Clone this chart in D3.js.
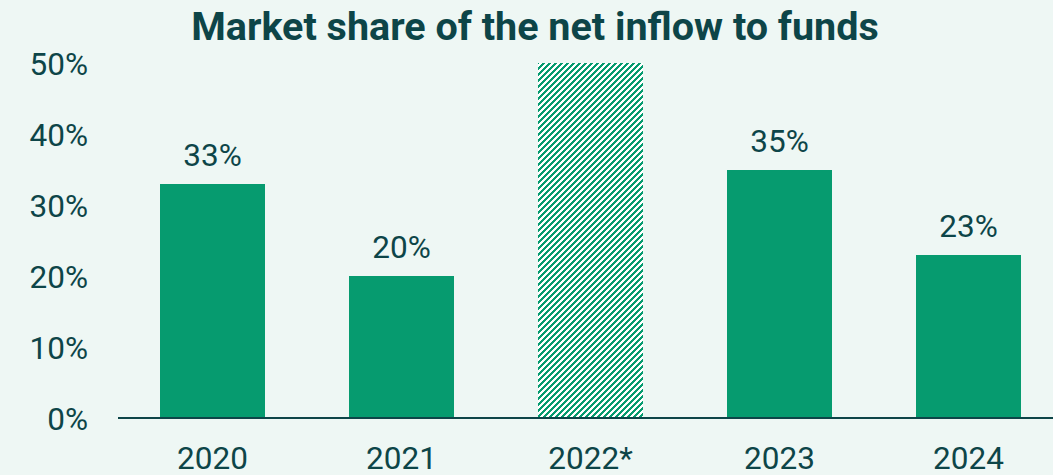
<!DOCTYPE html>
<html>
<head>
<meta charset="utf-8">
<script src="https://cdn.jsdelivr.net/npm/d3@7"></script>
<style>
  html, body { margin: 0; padding: 0; background: #eef7f4; }
  svg { display: block; font-family: Roboto, "Noto Sans", sans-serif; }
</style>
</head>
<body>
<svg id="chart" width="1053" height="475"></svg>
<script>
// Market share of the net inflow to funds, per year (%)
const years = ["2020", "2021", "2022*", "2023", "2024"];
const shares = [33, 20, 50, 35, 23];
const showLabel = [true, true, false, true, true];
const hatched = [false, false, true, false, false];
const yTicks = [0, 10, 20, 30, 40, 50];
const title = "Market share of the net inflow to funds";

const W = 1053, H = 475;
const ink = "#0d4548";
const green = "#069b6f";
const fs = 31.5;

const svg = d3.select("#chart");
svg.append("rect").attr("width", W).attr("height", H).attr("fill", "#eef7f4");

// diagonal stripe fill for the provisional year: a 6px pixel-stepped tile
const tile = 6;
const defs = svg.append("defs");
const pat = defs.append("pattern")
  .attr("id", "stripes")
  .attr("patternUnits", "userSpaceOnUse")
  .attr("width", tile).attr("height", tile);
pat.append("rect").attr("width", tile).attr("height", tile).attr("fill", "#ffffff");
const cells = [];
for (let r = 0; r < tile; r++) {
  for (let k = 0; k < tile / 2; k++) cells.push([(tile - 1 - r + k) % tile, r]);
}
pat.selectAll("rect.px")
  .data(cells)
  .join("rect")
  .attr("class", "px")
  .attr("x", d => d[0]).attr("y", d => d[1])
  .attr("width", 1).attr("height", 1)
  .attr("fill", green)
  .attr("shape-rendering", "crispEdges");

const x = d3.scaleBand()
  .domain(years)
  .range([118, 1063])
  .paddingInner(0.444)
  .paddingOuter(0.222);

const y = d3.scaleLinear()
  .domain([0, 50])
  .range([418, 63])
  .clamp(true);

// title
svg.append("text")
  .attr("x", 535).attr("y", 40)
  .attr("text-anchor", "middle")
  .attr("font-size", 39.5).attr("font-weight", 700)
  .attr("fill", ink)
  .text(title);

// y axis labels
const yAxis = d3.axisLeft(y)
  .tickValues(yTicks)
  .tickFormat(d => d + "%")
  .tickSize(0)
  .tickPadding(0);
const gy = svg.append("g").attr("transform", "translate(88,0)").call(yAxis);
gy.select(".domain").remove();
gy.selectAll("text")
  .attr("font-size", fs)
  .attr("font-family", "Roboto, sans-serif")
  .attr("fill", ink)
  .attr("dy", "0.36em");

// bars
svg.append("g").selectAll("rect")
  .data(years)
  .join("rect")
  .attr("x", d => x(d))
  .attr("width", x.bandwidth())
  .attr("y", (d, i) => y(shares[i]))
  .attr("height", (d, i) => y(0) - y(shares[i]))
  .attr("fill", (d, i) => hatched[i] ? "url(#stripes)" : green)
  .attr("shape-rendering", "crispEdges");

// value labels
svg.append("g").selectAll("text")
  .data(years.filter((d, i) => showLabel[i]))
  .join("text")
  .attr("x", d => x(d) + x.bandwidth() / 2)
  .attr("y", d => y(shares[years.indexOf(d)]) - 18)
  .attr("text-anchor", "middle")
  .attr("font-size", fs)
  .attr("fill", ink)
  .text(d => shares[years.indexOf(d)] + "%");

// x axis
const xAxis = d3.axisBottom(x).tickSize(0).tickPadding(0);
const gx = svg.append("g").attr("transform", "translate(0," + y(0) + ")").call(xAxis);
gx.select(".domain").remove();
gx.append("line")
  .attr("x1", 118).attr("x2", W)
  .attr("y1", 0).attr("y2", 0)
  .attr("stroke", ink).attr("stroke-width", 2);
gx.selectAll(".tick text")
  .attr("font-size", fs)
  .attr("font-family", "Roboto, sans-serif")
  .attr("fill", ink)
  .attr("y", 51)
  .attr("dy", 0);
</script>
</body>
</html>
